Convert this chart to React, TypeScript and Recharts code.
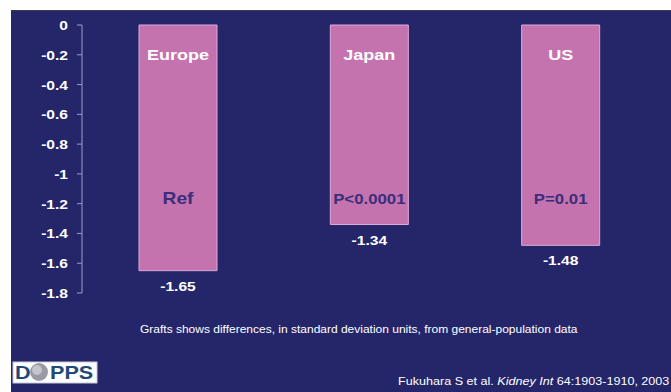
import { Bar, BarChart, LabelList, XAxis, YAxis } from 'recharts';

const regions = ['Europe', 'Japan', 'US'];
const scores = [-1.65, -1.34, -1.48];
const notes = ['Ref', 'P<0.0001', 'P=0.01'];
const yTicks = [0, -0.2, -0.4, -0.6, -0.8, -1, -1.2, -1.4, -1.6, -1.8];
const boundaryTicks = [0, 1, 2, 3];

const footnote = 'Grafts shows differences, in standard deviation units, from general-population data';

const data = regions.map((region, i) => ({ region, score: scores[i], note: notes[i] }));

const NAVY = '#25266a';
const PINK = '#c473ae';
const NOTE_INK = '#3b2e7c';
const AXIS = '#a09ccc';
const FONT = '"Liberation Sans", Arial, sans-serif';
const NOTE_LEVEL = -1.17;

function SText({
  x,
  y,
  children,
  size = 13,
  fill = '#ffffff',
  anchor = 'middle',
  weight = 'bold',
  stretch = 1.2,
}: {
  x: number;
  y: number;
  children: React.ReactNode;
  size?: number;
  fill?: string;
  anchor?: 'start' | 'middle' | 'end';
  weight?: string;
  stretch?: number;
}) {
  return (
    <text
      transform={`translate(${x},${y}) scale(${stretch},1)`}
      textAnchor={anchor}
      fontSize={size}
      fontWeight={weight}
      fill={fill}
      fontFamily={FONT}
    >
      {children}
    </text>
  );
}

function barBox(p: any) {
  const top = Math.min(p.y, p.y + p.height);
  const bottom = Math.max(p.y, p.y + p.height);
  return { cx: p.x + p.width / 2, top, bottom };
}

function YTick({ x, y, payload }: any) {
  return (
    <SText x={x} y={y + 5} anchor="end" size={13}>
      {String(payload.value)}
    </SText>
  );
}

function RegionLabel(p: any) {
  const { cx, top } = barBox(p);
  return (
    <SText x={cx} y={top + 35} size={15}>
      {p.value}
    </SText>
  );
}

function NoteLabel(p: any) {
  const { cx, top, bottom } = barBox(p);
  const score = scores[p.index];
  const y = top + ((bottom - top) * NOTE_LEVEL) / score;
  return (
    <SText x={cx} y={y + 5} size={p.index === 0 ? 16 : 14} fill={NOTE_INK}>
      {p.value}
    </SText>
  );
}

function ValueLabel(p: any) {
  const { cx, bottom } = barBox(p);
  return (
    <SText x={cx} y={bottom + 20} size={13}>
      {String(p.value)}
    </SText>
  );
}

export default function App() {
  return (
    <div
      style={{
        position: 'absolute',
        left: 0,
        top: 0,
        width: 671,
        height: 392,
        background: '#ffffff',
        overflow: 'hidden',
      }}
    >
      <div
        style={{
          position: 'absolute',
          left: 11,
          top: 10,
          right: 0,
          bottom: 0,
          background: NAVY,
          borderTop: '1px solid #3a3a4a',
        }}
      />
      <div style={{ position: 'absolute', left: 0, top: 0 }}>
        <BarChart width={671} height={392} data={data} margin={{ top: 25, right: 15, bottom: 99, left: 12 }}>
          <XAxis dataKey="region" type="category" orientation="top" hide />
          <XAxis
            xAxisId="bounds"
            type="number"
            domain={[0, 3]}
            ticks={boundaryTicks}
            orientation="top"
            mirror
            height={0}
            tick={false}
            tickSize={5}
            stroke={AXIS}
            axisLine={{ stroke: AXIS }}
            tickLine={{ stroke: AXIS }}
          />
          <YAxis
            type="number"
            domain={[-1.8, 0]}
            ticks={yTicks}
            width={70}
            tickSize={5}
            tickMargin={9}
            interval={0}
            stroke={AXIS}
            tick={<YTick />}
          />
          <Bar dataKey="score" fill={PINK} stroke="#dcaad6" strokeWidth={1} barSize={78} isAnimationActive={false}>
            <LabelList dataKey="region" content={<RegionLabel />} />
            <LabelList dataKey="note" content={<NoteLabel />} />
            <LabelList dataKey="score" content={<ValueLabel />} />
          </Bar>
        </BarChart>
      </div>
      <svg
        width={671}
        height={392}
        style={{ position: 'absolute', left: 0, top: 0, pointerEvents: 'none' }}
      >
        <SText x={140} y={333} anchor="start" size={10} weight="normal">
          {footnote}
        </SText>
        <text
          transform="translate(398,385) scale(1.2,1)"
          fontSize={10.5}
          fill="#ffffff"
          fontFamily={FONT}
        >
          Fukuhara S et al. <tspan fontStyle="italic">Kidney Int</tspan> 64:1903-1910, 2003
        </text>
        <rect x={13} y={362} width={84} height={21} fill="#ffffff" stroke="#c8c8d8" strokeWidth={1} />
        <SText x={15} y={379} anchor="start" size={18} fill="#1f4a78">
          D
        </SText>
        <circle cx={39} cy={372} r={9} fill="#9a9aa4" />
        <circle cx={37} cy={370} r={5} fill="#c4c4cc" />
        <SText x={50} y={379} anchor="start" size={18} fill="#1f4a78">
          PPS
        </SText>
      </svg>
    </div>
  );
}
